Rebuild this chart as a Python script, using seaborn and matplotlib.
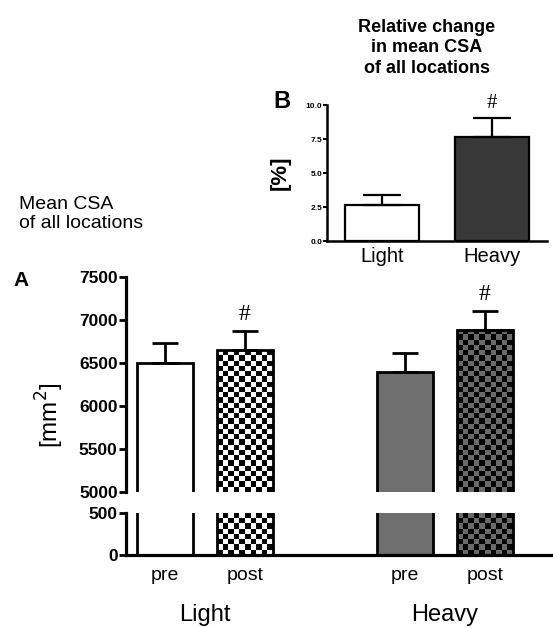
# Mean CSA (A) and relative change (B) - recreated with seaborn
import numpy as np
import pandas as pd
import matplotlib
matplotlib.use("Agg")
import matplotlib.pyplot as plt
from matplotlib.colors import ListedColormap
import seaborn as sns

# panel A: mean CSA of all locations [mm^2]
groups = ["Light", "Light", "Heavy", "Heavy"]
times = ["pre", "post", "pre", "post"]
csa_mean = [6495, 6650, 6395, 6885]
csa_err = [235, 222, 222, 222]
csa_sig = ["", "#", "", "#"]
a_ticks_top = [5000, 5500, 6000, 6500, 7000, 7500]
a_ticks_bottom = [0, 500]

# panel B: relative change in mean CSA [%]
rel_groups = ["Light", "Heavy"]
rel_mean = [2.62, 7.68]
rel_err = [0.76, 1.39]
rel_sig = ["", "#"]
b_ticks = [0.0, 2.5, 5.0, 7.5, 10.0]

sns.set_style("white")
plt.rcParams["font.family"] = ["Liberation Sans", "DejaVu Sans"]
plt.rcParams["text.color"] = "black"
plt.rcParams["xtick.color"] = "black"
plt.rcParams["ytick.color"] = "black"
plt.rcParams["axes.labelcolor"] = "black"

W, H = 553, 628
fig = plt.figure(figsize=(W / 100, H / 100), dpi=100)


def box(left, top, right, bottom):
    # pixel box -> figure fraction
    return [left / W, 1 - bottom / H, (right - left) / W, (bottom - top) / H]


def checker(ax, patch, dark, light, cell=5.3):
    # checkerboard fill for the visible part of a bar
    ylo, yhi = ax.get_ylim()
    x0 = patch.get_x()
    x1 = x0 + patch.get_width()
    y0 = max(ylo, 0)
    y1 = min(patch.get_height(), yhi)
    (px0, py0), (px1, py1) = ax.transData.transform([(x0, y0), (x1, y1)])
    nx = max(1, round((px1 - px0) / cell))
    ny = max(1, round((py1 - py0) / cell))
    grid = np.indices((ny, nx)).sum(axis=0) % 2
    ax.imshow(grid, extent=(x0, x1, y0, y1), origin="upper",
              cmap=ListedColormap([light, dark]), interpolation="nearest",
              aspect="auto", zorder=patch.get_zorder() - 0.05)
    patch.set_facecolor("none")


# ---------------- panel A (broken y axis) ----------------
df_a = pd.DataFrame({"group": groups, "time": times, "csa": csa_mean})
ax_top = fig.add_axes(box(126, 277, 553, 492))
ax_bot = fig.add_axes(box(126, 513, 553, 555))

fills = ["white", "checker_w", "#6e6e6e", "checker_g"]
for ax, lims, ticks in [(ax_top, (5000, 7500), a_ticks_top), (ax_bot, (0, 500), a_ticks_bottom)]:
    sns.barplot(data=df_a, x="group", y="csa", hue="time", order=["Light", "Heavy"],
                hue_order=["pre", "post"], width=0.667, gap=0.31, errorbar=None,
                legend=False, edgecolor="black", linewidth=2, ax=ax)
    ax.set_xlim(-0.329, -0.329 + 427 / 240)
    ax.set_ylim(*lims)
    ax.set_yticks(ticks)
    ax.set_yticklabels([str(t) for t in ticks], fontsize=12.5, fontweight="bold")
    ax.tick_params(axis="y", length=5, width=2, pad=1, color="black", left=True)
    ax.set_xlabel("")
    ax.set_ylabel("")
    for s in ["top", "right"]:
        ax.spines[s].set_visible(False)
    ax.spines["left"].set_linewidth(2.3)
    ax.spines["bottom"].set_linewidth(2.3)
    ax.spines["left"].set_color("black")
    ax.spines["bottom"].set_color("black")

    bars = sorted(ax.patches, key=lambda p: p.get_x())
    for p, f in zip(bars, fills):
        if f == "checker_w":
            checker(ax, p, "black", "white")
        elif f == "checker_g":
            checker(ax, p, "black", "#6a6a6a")
        else:
            p.set_facecolor(f)
    ax.set_xlim(-0.329, -0.329 + 427 / 240)
    ax.set_ylim(*lims)

ax_top.spines["bottom"].set_visible(False)
ax_top.set_xticks([])

# error bars + significance marks (upper part only)
bars = sorted(ax_top.patches, key=lambda p: p.get_x())
xc = [p.get_x() + p.get_width() / 2 for p in bars]
ax_top.errorbar(xc, csa_mean, yerr=[np.zeros(len(csa_err)), csa_err], fmt="none",
                ecolor="black", elinewidth=2, capsize=9.4, capthick=2, zorder=5)
for x, m, e, s in zip(xc, csa_mean, csa_err, csa_sig):
    if s:
        ax_top.annotate(s, (x, m + e), xytext=(0, 4), textcoords="offset points",
                        ha="center", va="bottom", fontsize=17, family="Liberation Serif")

# x labels: pre/post as minor ticks, Light/Heavy as major ticks
ax_bot.set_xticks([0, 1])
ax_bot.set_xticklabels(["Light", "Heavy"], fontsize=17)
ax_bot.set_xticks(xc, minor=True)
ax_bot.set_xticklabels(times, minor=True, fontsize=14)
ax_bot.tick_params(axis="x", which="major", length=0, pad=35)
ax_bot.tick_params(axis="x", which="minor", length=0, pad=9)

fig.text(50 / W, 1 - 415 / H, "[mm$^2$]", rotation=90, ha="center", va="center", fontsize=17.5)
fig.text(13 / W, 1 - 281 / H, "A", ha="left", va="center", fontsize=15, fontweight="bold")
fig.text(19 / W, 1 - 214 / H, "Mean CSA\nof all locations", ha="left", va="center", fontsize=14)

# ---------------- panel B ----------------
ax_b = fig.add_axes(box(327, 105, 547, 241))
sns.barplot(x=rel_groups, y=rel_mean, hue=rel_groups, palette=["white", "#383838"],
            width=0.68, errorbar=None, legend=False, edgecolor="black", linewidth=1.6, ax=ax_b)
ax_b.set_xlim(-0.5, 1.5)
ax_b.set_ylim(0, 10)
ax_b.set_yticks(b_ticks)
ax_b.set_yticklabels([f"{t:.1f}" for t in b_ticks], fontsize=6, fontweight="bold")
ax_b.tick_params(axis="y", length=3, width=1.5, pad=0.5, left=True)
ax_b.tick_params(axis="x", length=0, pad=4, labelsize=14.5)
for s in ["top", "right"]:
    ax_b.spines[s].set_visible(False)
for s in ["left", "bottom"]:
    ax_b.spines[s].set_linewidth(1.8)
    ax_b.spines[s].set_color("black")

bars_b = sorted(ax_b.patches, key=lambda p: p.get_x())
xb = [p.get_x() + p.get_width() / 2 for p in bars_b]
ax_b.errorbar(xb, rel_mean, yerr=[np.zeros(len(rel_err)), rel_err], fmt="none",
              ecolor="black", elinewidth=1.6, capsize=13.7, capthick=1.6, zorder=5)
for x, m, e, s in zip(xb, rel_mean, rel_err, rel_sig):
    if s:
        ax_b.annotate(s, (x, m + e), xytext=(0, 3), textcoords="offset points",
                      ha="center", va="bottom", fontsize=15, family="Liberation Serif")

fig.text(280 / W, 1 - 173 / H, "[%]", rotation=90, ha="center", va="center",
         fontsize=16, fontweight="bold")
fig.text(282 / W, 1 - 101 / H, "B", ha="center", va="center", fontsize=17, fontweight="bold")
fig.text(427 / W, 1 - 48 / H, "Relative change\nin mean CSA\nof all locations",
         ha="center", va="center", fontsize=13, fontweight="bold", linespacing=1.25)

fig.savefig("out.png", dpi=100)
